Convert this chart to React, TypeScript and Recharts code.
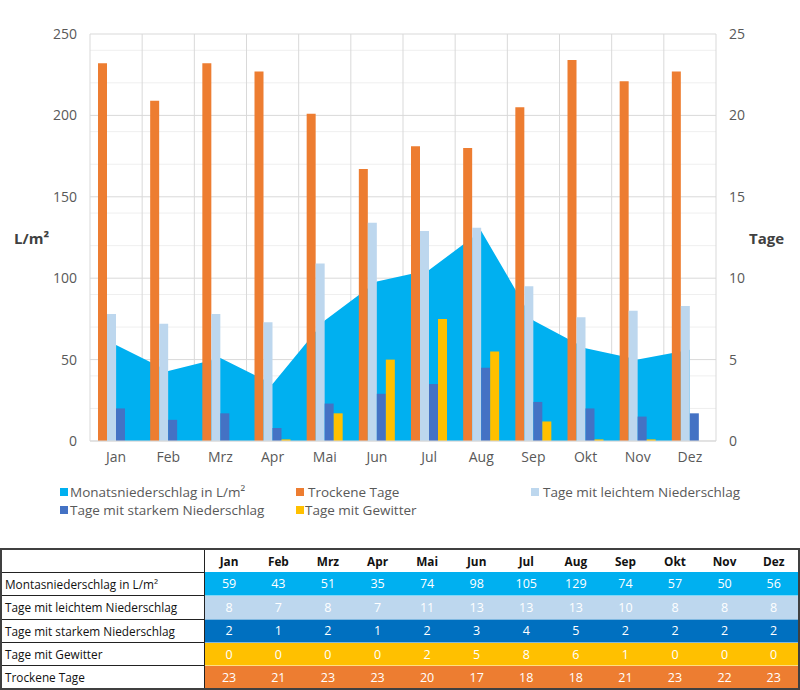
import React from 'react';
import { ComposedChart, Area, Bar, XAxis, YAxis, CartesianGrid } from 'recharts';

const months = ['Jan', 'Feb', 'Mrz', 'Apr', 'Mai', 'Jun', 'Jul', 'Aug', 'Sep', 'Okt', 'Nov', 'Dez'];
const niederschlag = [59, 43, 51, 35, 74, 98, 105, 129, 74, 57, 50, 56];
const trockeneTage = [23.2, 20.9, 23.2, 22.7, 20.1, 16.7, 18.1, 18.0, 20.5, 23.4, 22.1, 22.7];
const leichtTage = [7.8, 7.2, 7.8, 7.3, 10.9, 13.4, 12.9, 13.1, 9.5, 7.6, 8.0, 8.3];
const starkTage = [2.0, 1.3, 1.7, 0.8, 2.3, 2.9, 3.5, 4.5, 2.4, 2.0, 1.5, 1.7];
const gewitterTage = [0, 0, 0, 0.1, 1.7, 5.0, 7.5, 5.5, 1.2, 0.1, 0.1, 0];

const leftTicks = [0, 50, 100, 150, 200, 250];
const rightTicks = [0, 5, 10, 15, 20, 25];
const minorValues = [10, 20, 30, 40, 60, 70, 80, 90, 110, 120, 130, 140, 160, 170, 180, 190, 210, 220, 230, 240];

const tableRowLabels = [
  'Montasniederschlag in L/m²',
  'Tage mit leichtem Niederschlag',
  'Tage mit starkem Niederschlag',
  'Tage mit Gewitter',
  'Trockene Tage',
];
const tableNiederschlag = [59, 43, 51, 35, 74, 98, 105, 129, 74, 57, 50, 56];
const tableLeicht = [8, 7, 8, 7, 11, 13, 13, 13, 10, 8, 8, 8];
const tableStark = [2, 1, 2, 1, 2, 3, 4, 5, 2, 2, 2, 2];
const tableGewitter = [0, 0, 0, 0, 2, 5, 8, 6, 1, 0, 0, 0];
const tableTrocken = [23, 21, 23, 23, 20, 17, 18, 18, 21, 23, 22, 23];

const C_AREA = '#00b0f0';
const C_ORANGE = '#ed7d31';
const C_LIGHT = '#bdd7ee';
const C_DARK = '#4472c4';
const C_YELLOW = '#ffc000';
const TABLE_COLORS = ['#00b0f0', '#bdd7ee', '#0070c0', '#ffc000', '#ed7d31'];

const data = months.map((m, i) => ({
  month: m,
  niederschlag: niederschlag[i],
  trocken: trockeneTage[i],
  leicht: leichtTage[i],
  stark: starkTage[i],
  gewitter: gewitterTage[i],
}));

const FONT = '"Open Sans", "Noto Sans", sans-serif';

const verticalGen = (props: any) => {
  const off = props.offset;
  const out: number[] = [];
  for (let i = 0; i <= months.length; i++) out.push(off.left + (off.width * i) / months.length);
  return out;
};

const legendItems = [
  { label: 'Monatsniederschlag in L/m²', color: C_AREA, x: 60, tx: 70, y: 492 },
  { label: 'Trockene Tage', color: C_ORANGE, x: 296, tx: 308, y: 492 },
  { label: 'Tage mit leichtem Niederschlag', color: C_LIGHT, x: 531, tx: 543, y: 492 },
  { label: 'Tage mit starkem Niederschlag', color: C_DARK, x: 60, tx: 70, y: 510 },
  { label: 'Tage mit Gewitter', color: C_YELLOW, x: 296, tx: 305, y: 510 },
];

export default function App() {
  const rows = [tableNiederschlag, tableLeicht, tableStark, tableGewitter, tableTrocken];
  return (
    <div style={{ position: 'absolute', left: 0, top: 0, width: 800, height: 690, background: '#fff', fontFamily: FONT, overflow: 'hidden' }}>
      <ComposedChart
        width={800}
        height={480}
        data={data}
        margin={{ top: 34, right: 24, bottom: 9, left: 30 }}
        barGap={0}
        barSize={9}
      >
        <CartesianGrid
          yAxisId="left"
          horizontalValues={minorValues}
          vertical={false}
          stroke="#efefef"
          strokeWidth={1}
        />
        <CartesianGrid
          yAxisId="left"
          verticalCoordinatesGenerator={verticalGen}
          stroke="#d9d9d9"
          strokeWidth={1}
        />
        <XAxis
          dataKey="month"
          axisLine={{ stroke: '#d9d9d9' }}
          tickLine={false}
          tickSize={0}
          tickMargin={11}
          tick={{ fill: '#595959', fontSize: 14, fontFamily: FONT }}
          height={30}
        />
        <YAxis
          yAxisId="left"
          orientation="left"
          domain={[0, 250]}
          ticks={leftTicks}
          axisLine={false}
          tickLine={false}
          tickSize={0}
          tickMargin={13}
          width={60}
          tick={{ fill: '#595959', fontSize: 14, fontFamily: FONT }}
        />
        <YAxis
          yAxisId="right"
          orientation="right"
          domain={[0, 25]}
          ticks={rightTicks}
          axisLine={false}
          tickLine={false}
          tickSize={0}
          tickMargin={13}
          width={60}
          tick={{ fill: '#595959', fontSize: 14, fontFamily: FONT, textAnchor: 'start' }}
        />
        <Area
          yAxisId="left"
          type="linear"
          dataKey="niederschlag"
          fill={C_AREA}
          fillOpacity={1}
          stroke="none"
          isAnimationActive={false}
        />
        <Bar yAxisId="right" dataKey="trocken" fill={C_ORANGE} isAnimationActive={false} />
        <Bar yAxisId="right" dataKey="leicht" fill={C_LIGHT} isAnimationActive={false} />
        <Bar yAxisId="right" dataKey="stark" fill={C_DARK} isAnimationActive={false} />
        <Bar yAxisId="right" dataKey="gewitter" fill={C_YELLOW} isAnimationActive={false} />
      </ComposedChart>

      <div style={{ position: 'absolute', left: 14, top: 228, fontSize: 15, fontWeight: 700, color: '#404040' }}>L/m²</div>
      <div style={{ position: 'absolute', left: 749, top: 228, fontSize: 15, fontWeight: 700, color: '#404040' }}>Tage</div>

      {legendItems.map((it) => (
        <React.Fragment key={it.label}>
          <div style={{ position: 'absolute', left: it.x, top: it.y - 4, width: 8, height: 8, background: it.color }} />
          <div style={{ position: 'absolute', left: it.tx, top: it.y - 10, fontSize: 13.5, color: '#595959', lineHeight: '20px', whiteSpace: 'nowrap' }}>
            {it.label}
          </div>
        </React.Fragment>
      ))}

      <table
        style={{
          position: 'absolute',
          left: 0,
          top: 548,
          width: 800,
          borderCollapse: 'collapse',
          tableLayout: 'fixed',
          fontSize: 11.8,
          fontFamily: FONT,
          border: '2px solid #404040',
        }}
      >
        <colgroup>
          <col style={{ width: 203 }} />
          {months.map((m) => (
            <col key={m} />
          ))}
        </colgroup>
        <tbody>
          <tr style={{ height: 23.4 }}>
            <td style={{ border: '1px solid #222', padding: 0 }} />
            {months.map((m) => (
              <td key={m} style={{ textAlign: 'center', fontWeight: 700, color: '#111', padding: 0 }}>{m}</td>
            ))}
          </tr>
          {rows.map((vals, r) => (
            <tr key={r} style={{ height: 23.4 }}>
              <td style={{ border: '1px solid #222', padding: '0 0 0 3px', color: '#111', whiteSpace: 'nowrap' }}>{tableRowLabels[r]}</td>
              {vals.map((v, i) => (
                <td
                  key={i}
                  style={{
                    background: TABLE_COLORS[r],
                    color: '#fff',
                    textAlign: 'center',
                    padding: 0,
                    fontSize: 12.5,
                    borderTop: r > 0 ? '1px solid rgba(255,255,255,0.5)' : 'none',
                  }}
                >
                  {v}
                </td>
              ))}
            </tr>
          ))}
        </tbody>
      </table>
    </div>
  );
}
